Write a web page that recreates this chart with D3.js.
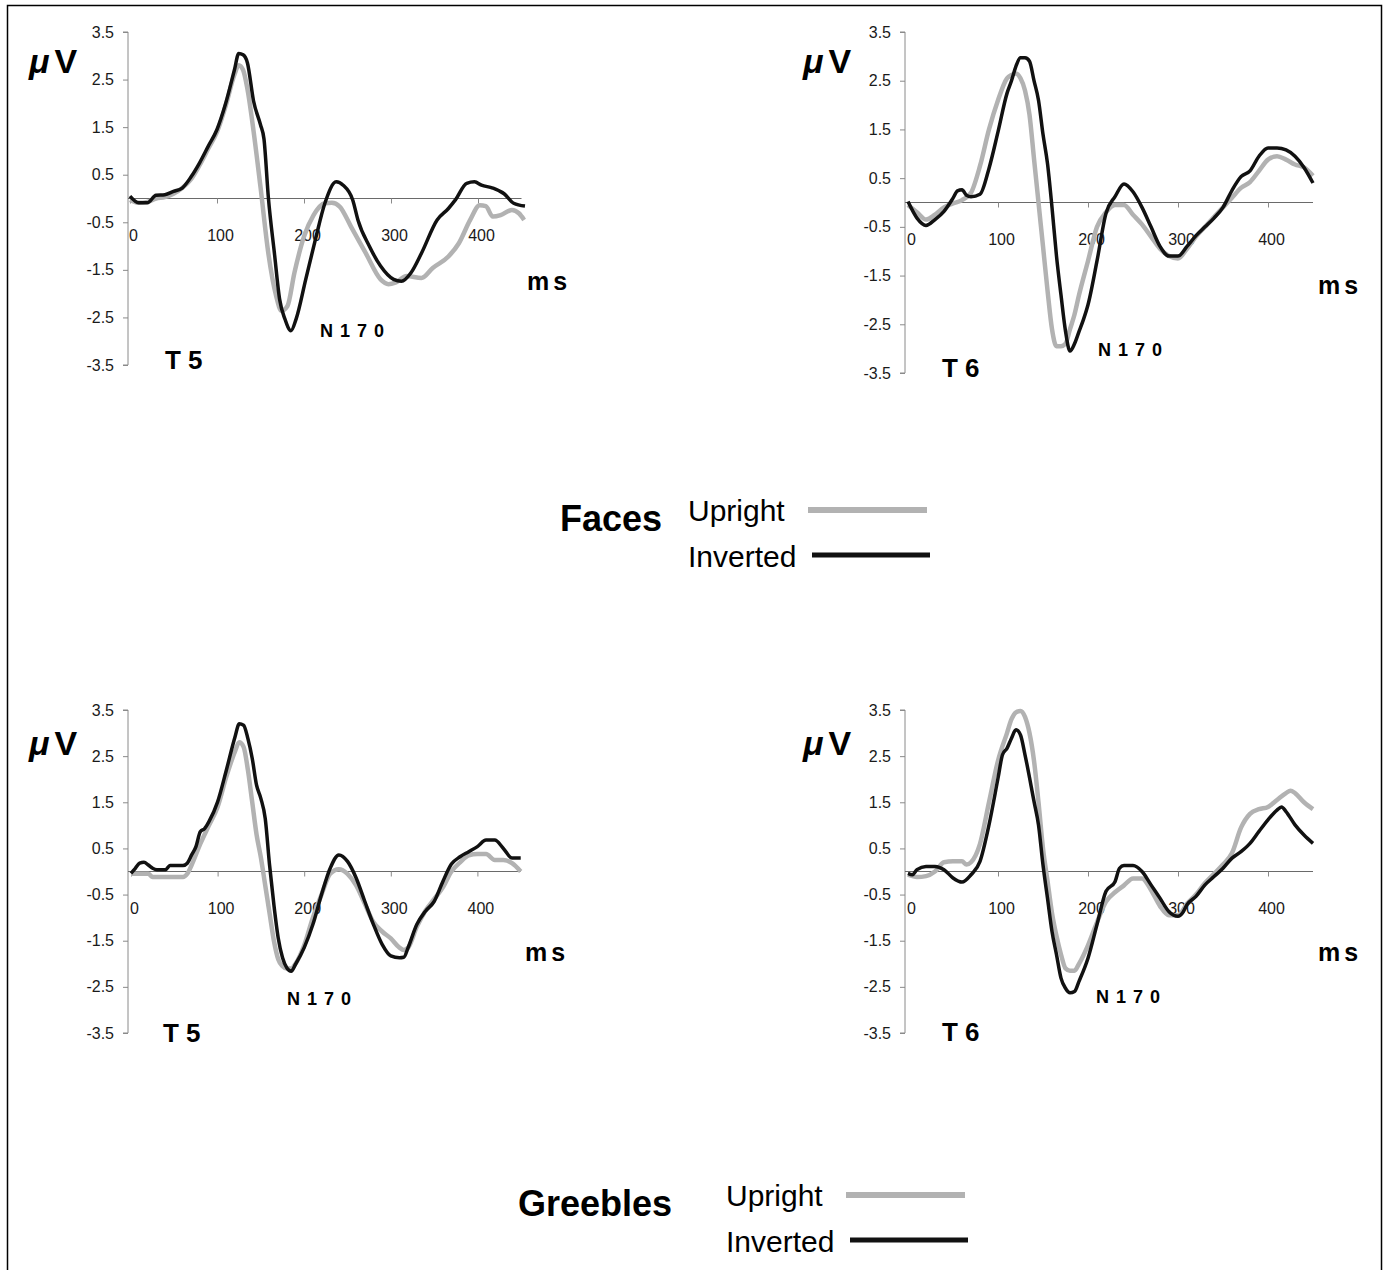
<!DOCTYPE html>
<html>
<head>
<meta charset="utf-8">
<script src="https://cdn.jsdelivr.net/npm/d3@7"></script>
<style>
  body { margin: 0; background: #fff; }
  svg { display: block; font-family: "Liberation Sans", Arial, sans-serif; }
</style>
</head>
<body>
<svg id="chart" width="1389" height="1270"></svg>
<script>
// ERP waveforms (T5 / T6), upright vs inverted, for faces and greebles

const msTicks = [0, 100, 200, 300, 400];
const uvTicks = [3.5, 2.5, 1.5, 0.5, -0.5, -1.5, -2.5, -3.5];

// [ms, microvolts]
const facesT5Upright = [[0,-0.03],[10,-0.09],[20,-0.07],[30,0],[40,0.03],[50,0.1],[60,0.22],[70,0.4],[80,0.7],[90,1.05],[100,1.4],[110,1.95],[120,2.6],[125,2.8],[130,2.7],[135,2.3],[142,1.42],[150,0.24],[159,-1.15],[168,-2.05],[174,-2.36],[181,-2.26],[189,-1.56],[200,-0.8],[211,-0.35],[224,-0.1],[232,-0.09],[241,-0.17],[254,-0.59],[271,-1.15],[288,-1.7],[297,-1.8],[305,-1.77],[318,-1.63],[335,-1.67],[348,-1.46],[366,-1.22],[378,-0.94],[391,-0.45],[402,-0.14],[409,-0.16],[417,-0.38],[426,-0.35],[439,-0.24],[447,-0.31],[453,-0.45]];
const facesT5Inverted = [[0,0.05],[10,-0.09],[20,-0.09],[30,0.07],[40,0.08],[50,0.15],[60,0.22],[70,0.45],[80,0.75],[90,1.1],[100,1.45],[110,2.0],[120,2.7],[125,3.05],[130,3.02],[135,2.85],[142,2.05],[150,1.55],[154,1.25],[159,0.03],[166,-1.15],[172,-2.12],[178,-2.53],[185,-2.78],[191,-2.53],[202,-1.7],[213,-0.87],[224,-0.1],[237,0.35],[245,0.28],[256,-0.03],[262,-0.45],[275,-1.0],[288,-1.42],[303,-1.7],[312,-1.74],[323,-1.56],[335,-1.15],[353,-0.45],[366,-0.21],[374,-0.03],[387,0.32],[396,0.35],[404,0.28],[417,0.22],[430,0.1],[441,-0.1],[454,-0.16]];

const facesT6Upright = [[0,-0.05],[10,-0.2],[20,-0.35],[30,-0.25],[40,-0.1],[50,-0.02],[60,0.05],[70,0.2],[80,0.75],[90,1.5],[100,2.1],[110,2.55],[115,2.62],[120,2.65],[125,2.55],[130,2.3],[135,1.8],[140,0.9],[145,0],[150,-0.9],[155,-1.8],[160,-2.6],[165,-2.95],[170,-2.95],[175,-2.9],[180,-2.6],[185,-2.3],[190,-1.9],[200,-1.2],[210,-0.5],[220,-0.2],[230,-0.05],[240,-0.05],[250,-0.25],[260,-0.45],[270,-0.7],[280,-0.95],[290,-1.1],[300,-1.15],[310,-0.95],[320,-0.7],[330,-0.5],[340,-0.3],[350,-0.1],[360,0.1],[370,0.3],[380,0.42],[390,0.65],[400,0.88],[410,0.95],[420,0.88],[430,0.78],[440,0.72],[450,0.55]];
const facesT6Inverted = [[0,0.02],[10,-0.32],[20,-0.47],[30,-0.35],[40,-0.18],[50,0.09],[55,0.24],[60,0.26],[65,0.15],[70,0.12],[80,0.17],[90,0.7],[100,1.45],[110,2.24],[115,2.5],[120,2.8],[125,2.97],[130,2.97],[135,2.9],[140,2.5],[145,2.1],[150,1.4],[155,0.8],[160,-0.1],[165,-1.1],[170,-1.9],[175,-2.64],[180,-3.05],[185,-2.9],[190,-2.65],[195,-2.4],[200,-2.1],[210,-1.2],[220,-0.22],[230,0.12],[240,0.38],[250,0.22],[260,-0.1],[270,-0.5],[280,-0.9],[290,-1.1],[300,-1.1],[310,-0.9],[320,-0.68],[330,-0.5],[340,-0.32],[350,-0.1],[360,0.25],[370,0.53],[380,0.65],[390,0.95],[400,1.12],[410,1.12],[420,1.08],[430,0.95],[440,0.72],[450,0.4]];

const greeblesT5Upright = [[0,-0.05],[10,-0.05],[20,-0.05],[25,-0.12],[40,-0.12],[60,-0.12],[65,-0.05],[70,0.14],[80,0.6],[90,1.0],[100,1.4],[110,2.05],[120,2.6],[125,2.8],[130,2.7],[135,2.2],[140,1.5],[145,0.8],[150,0.3],[155,-0.3],[160,-0.9],[165,-1.5],[170,-1.9],[175,-2.05],[180,-2.1],[185,-2.1],[190,-2.0],[200,-1.6],[210,-1.0],[220,-0.5],[230,-0.05],[240,0.05],[250,-0.05],[260,-0.3],[270,-0.7],[280,-1.1],[290,-1.3],[300,-1.45],[310,-1.65],[315,-1.7],[320,-1.65],[330,-1.2],[340,-0.85],[350,-0.6],[360,-0.35],[370,0],[380,0.2],[390,0.35],[400,0.38],[410,0.38],[420,0.25],[430,0.25],[440,0.18],[450,0]];
const greeblesT5Inverted = [[0,-0.04],[5,0.07],[10,0.18],[15,0.2],[20,0.14],[25,0.07],[30,0.04],[40,0.04],[45,0.13],[60,0.13],[65,0.18],[70,0.36],[75,0.54],[80,0.86],[85,0.93],[90,1.08],[100,1.51],[110,2.19],[120,2.91],[125,3.2],[130,3.17],[135,2.88],[140,2.45],[145,1.87],[150,1.58],[155,1.15],[160,0.14],[165,-0.72],[170,-1.44],[175,-1.87],[180,-2.09],[185,-2.16],[190,-2.01],[200,-1.65],[210,-1.15],[220,-0.5],[230,0.07],[240,0.36],[250,0.22],[260,-0.14],[270,-0.65],[280,-1.15],[290,-1.58],[300,-1.83],[310,-1.87],[315,-1.86],[320,-1.65],[330,-1.15],[340,-0.86],[350,-0.65],[360,-0.22],[370,0.16],[380,0.32],[390,0.43],[400,0.54],[410,0.68],[420,0.68],[430,0.5],[440,0.29],[450,0.29]];

const greeblesT6Upright = [[0,-0.07],[10,-0.12],[20,-0.1],[30,0],[40,0.2],[50,0.22],[60,0.22],[65,0.15],[70,0.2],[80,0.6],[90,1.5],[100,2.4],[110,3.0],[115,3.3],[120,3.45],[125,3.48],[130,3.35],[135,3.0],[140,2.4],[145,1.5],[150,0.5],[155,-0.2],[160,-0.9],[165,-1.4],[170,-1.8],[175,-2.1],[180,-2.15],[185,-2.15],[190,-2.0],[200,-1.6],[210,-1.1],[220,-0.65],[230,-0.45],[240,-0.3],[250,-0.15],[260,-0.15],[270,-0.4],[280,-0.75],[290,-0.95],[300,-0.95],[310,-0.7],[320,-0.5],[330,-0.25],[340,-0.05],[350,0.15],[360,0.4],[370,0.95],[380,1.25],[390,1.35],[400,1.4],[410,1.55],[420,1.7],[425,1.75],[430,1.7],[440,1.5],[450,1.35]];
const greeblesT6Inverted = [[0,-0.04],[5,-0.07],[10,0.04],[20,0.11],[30,0.11],[40,0.04],[50,-0.14],[60,-0.23],[70,-0.07],[80,0.22],[90,1.01],[100,2.02],[105,2.53],[110,2.67],[115,2.89],[120,3.07],[125,2.96],[130,2.53],[140,1.52],[145,1.01],[150,0.14],[155,-0.58],[160,-1.3],[165,-1.8],[170,-2.31],[175,-2.53],[180,-2.63],[185,-2.6],[190,-2.38],[200,-1.88],[210,-1.15],[220,-0.43],[230,-0.22],[235,0.07],[240,0.13],[250,0.13],[260,0],[270,-0.29],[280,-0.58],[290,-0.87],[300,-0.97],[305,-0.9],[310,-0.72],[320,-0.54],[330,-0.29],[340,-0.11],[350,0.07],[360,0.29],[370,0.43],[380,0.61],[390,0.87],[400,1.12],[410,1.33],[415,1.4],[420,1.3],[430,1.01],[440,0.79],[450,0.61]];

const UPRIGHT = "#b2b2b2";
const INVERTED = "#111";

const panels = [
  { up: facesT5Upright, inv: facesT5Inverted, electrode: "T 5",
    axisX: 128, x0: 130, pxPerMs: 0.87, top: 32, bottom: 365,
    uv: [29, 73], ms: [527, 290], n170: [320, 337], el: [165, 369] },
  { up: facesT6Upright, inv: facesT6Inverted, electrode: "T 6",
    axisX: 905, x0: 908, pxPerMs: 0.9, top: 32, bottom: 373,
    uv: [803, 73], ms: [1318, 294], n170: [1098, 356], el: [942, 377] },
  { up: greeblesT5Upright, inv: greeblesT5Inverted, electrode: "T 5",
    axisX: 128, x0: 131, pxPerMs: 0.866, top: 710, bottom: 1033,
    uv: [29, 755], ms: [525, 961], n170: [287, 1005], el: [163, 1042] },
  { up: greeblesT6Upright, inv: greeblesT6Inverted, electrode: "T 6",
    axisX: 905, x0: 908, pxPerMs: 0.9, top: 710, bottom: 1033,
    uv: [803, 755], ms: [1318, 961], n170: [1096, 1003], el: [942, 1041] }
];

const svg = d3.select("#chart");

// page frame
svg.append("rect")
  .attr("x", 7.5).attr("y", 5.5)
  .attr("width", 1374).attr("height", 1300)
  .attr("fill", "none").attr("stroke", "#000").attr("stroke-width", 1.5);

panels.forEach(p => {
  const g = svg.append("g");
  const x = d3.scaleLinear().domain([0, 450]).range([p.x0, p.x0 + 450 * p.pxPerMs]);
  const y = d3.scaleLinear().domain([-3.5, 3.5]).range([p.bottom, p.top]);

  // y axis
  const yAxis = g.append("g")
    .attr("transform", `translate(${p.axisX},0)`)
    .call(d3.axisLeft(y).tickValues(uvTicks).tickSize(5).tickPadding(9)
      .tickFormat(d => d.toFixed(1)));
  yAxis.select(".domain").attr("stroke", "#8a8a8a").attr("d", `M-5,${p.top}H0V${p.bottom}H-5`);
  yAxis.selectAll(".tick line").attr("stroke", "#8a8a8a");
  yAxis.selectAll(".tick text").attr("font-size", 16).attr("fill", "#1a1a1a")
    .attr("font-family", "Liberation Sans, Arial, sans-serif");

  // zero line with ms ticks
  g.append("line")
    .attr("x1", p.axisX).attr("x2", x(450))
    .attr("y1", y(0)).attr("y2", y(0))
    .attr("stroke", "#6a6a6a").attr("stroke-width", 1);
  const xAxis = g.append("g")
    .attr("transform", `translate(0,${y(0)})`)
    .call(d3.axisBottom(x).tickValues(msTicks).tickSize(5).tickPadding(26));
  xAxis.select(".domain").remove();
  xAxis.selectAll(".tick line").attr("stroke", "#8a8a8a");
  xAxis.selectAll(".tick text").attr("font-size", 16).attr("fill", "#1a1a1a")
    .attr("dx", 3)
    .attr("font-family", "Liberation Sans, Arial, sans-serif");

  const line = d3.line()
    .x(d => x(d[0]))
    .y(d => y(d[1]))
    .curve(d3.curveMonotoneX);

  g.append("path").datum(p.up)
    .attr("d", line).attr("fill", "none")
    .attr("stroke", UPRIGHT).attr("stroke-width", 4.5).attr("stroke-linejoin", "round");
  g.append("path").datum(p.inv)
    .attr("d", line).attr("fill", "none")
    .attr("stroke", INVERTED).attr("stroke-width", 3.5).attr("stroke-linejoin", "round");

  // labels
  const uv = g.append("text")
    .attr("x", p.uv[0]).attr("y", p.uv[1])
    .attr("font-size", 34).attr("font-weight", "bold");
  uv.append("tspan").attr("font-style", "italic").text("μ");
  uv.append("tspan").attr("dx", 5).text("V");

  g.append("text")
    .attr("x", p.ms[0]).attr("y", p.ms[1])
    .attr("font-size", 25).attr("font-weight", "bold").attr("letter-spacing", 4)
    .text("ms");
  g.append("text")
    .attr("x", p.n170[0]).attr("y", p.n170[1])
    .attr("font-size", 18).attr("font-weight", "bold").attr("letter-spacing", 7)
    .text("N170");
  g.append("text")
    .attr("x", p.el[0]).attr("y", p.el[1])
    .attr("font-size", 26).attr("font-weight", "bold")
    .text(p.electrode);
});

// legends
function legend(title, tx, ty, lx, ly1, ly2, sx, sxEnd) {
  svg.append("text").attr("x", tx).attr("y", ty)
    .attr("font-size", 36).attr("font-weight", "bold").text(title);
  svg.append("text").attr("x", lx).attr("y", ly1)
    .attr("font-size", 30).text("Upright");
  svg.append("text").attr("x", lx).attr("y", ly2)
    .attr("font-size", 30).text("Inverted");
  svg.append("line")
    .attr("x1", sx[0]).attr("x2", sxEnd[0])
    .attr("y1", ly1 - 11).attr("y2", ly1 - 11)
    .attr("stroke", UPRIGHT).attr("stroke-width", 6);
  svg.append("line")
    .attr("x1", sx[1]).attr("x2", sxEnd[1])
    .attr("y1", ly2 - 12).attr("y2", ly2 - 12)
    .attr("stroke", INVERTED).attr("stroke-width", 5);
}
legend("Faces", 560, 531, 688, 521, 567, [808, 812], [927, 930]);
legend("Greebles", 518, 1216, 726, 1206, 1252, [846, 850], [965, 968]);
</script>
</body>
</html>
